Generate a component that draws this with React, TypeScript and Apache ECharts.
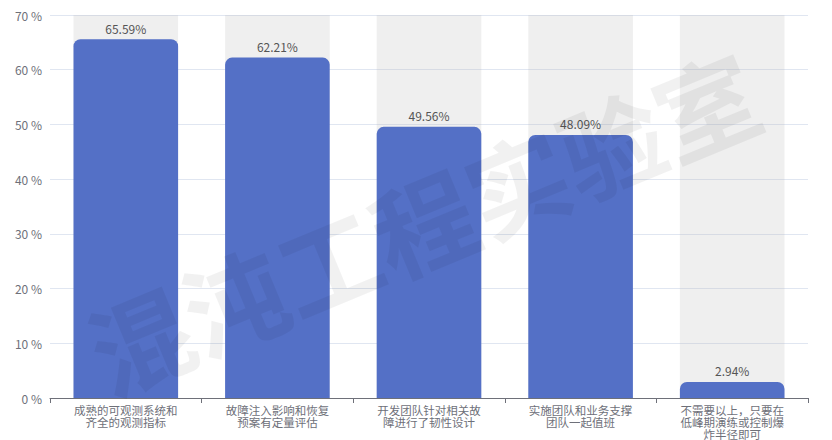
import React, { useEffect, useRef } from "react";
import * as echarts from "echarts";

const categories: string[] = [
  "成熟的可观测系统和齐全的观测指标",
  "故障注入影响和恢复预案有定量评估",
  "开发团队针对相关故障进行了韧性设计",
  "实施团队和业务支撑团队一起值班",
  "不需要以上，只要在低峰期演练或控制爆炸半径即可",
];
const values: number[] = [65.59, 62.21, 49.56, 48.09, 2.94];
const yMax = 70;
const yInterval = 10;
const watermark = "混沌工程实验室";

function wrap(s: string, n: number): string {
  const out: string[] = [];
  for (let i = 0; i < s.length; i += n) out.push(s.slice(i, i + n));
  return out.join("\n");
}

export default function App() {
  const ref = useRef<HTMLDivElement>(null);
  useEffect(() => {
    if (!ref.current) return;
    const chart = echarts.init(ref.current, undefined, { renderer: "svg" });
    const font = '"Noto Sans CJK SC", "Noto Sans", sans-serif';
    chart.setOption({
      animation: false,
      textStyle: { fontFamily: font },
      grid: { left: 50, right: 24, top: 15, bottom: 41 },
      xAxis: {
        type: "category",
        data: categories,
        axisLine: { lineStyle: { color: "#6e7079" } },
        axisTick: { show: true, alignWithLabel: false },
        axisLabel: {
          interval: 0,
          color: "#6e7079",
          fontSize: 11.5,
          lineHeight: 12,
          margin: 6,
          formatter: (v: string) => wrap(v, 9),
        },
      },
      yAxis: {
        type: "value",
        min: 0,
        max: yMax,
        interval: yInterval,
        axisLabel: { formatter: "{value} %", color: "#6e7079", fontSize: 12 },
        splitLine: { lineStyle: { color: "#E0E6F1" } },
      },
      series: [
        {
          type: "bar",
          data: values,
          barWidth: "69%",
          showBackground: true,
          backgroundStyle: { color: "rgba(180,180,180,0.22)" },
          itemStyle: { color: "#5470c6", borderRadius: [7, 7, 0, 0] },
          label: {
            show: true,
            position: "top",
            distance: 5,
            color: "#555",
            fontSize: 12,
            formatter: (p: any) => p.value.toFixed(2) + "%",
          },
        },
      ],
      graphic: [
        {
          type: "text",
          x: 422,
          y: 220,
          rotation: (22.5 * Math.PI) / 180,
          z: 100,
          silent: true,
          style: {
            text: watermark,
            fontSize: 102,
            fontWeight: "bold",
            fontFamily: font,
            fill: "rgba(0,0,0,0.055)",
            align: "center",
            verticalAlign: "middle",
          },
        },
      ],
    });
    return () => chart.dispose();
  }, []);
  return (
    <div
      ref={ref}
      style={{ position: "absolute", left: 0, top: 0, width: 832, height: 440 }}
    />
  );
}
